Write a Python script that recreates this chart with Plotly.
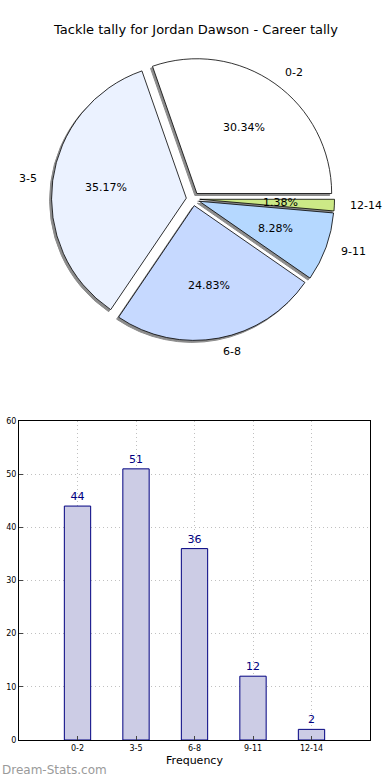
import math
import plotly.graph_objects as go

categories = ["0-2", "3-5", "6-8", "9-11", "12-14"]
counts = [44, 51, 36, 12, 2]
pie_colors = ["#ffffff", "#ebf2ff", "#c6d9ff", "#b5d8ff", "#cce986"]
y_ticks = [0, 10, 20, 30, 40, 50, 60]

W, H = 390, 780
PULL = 0.05
pull = [PULL] * len(counts)
total = sum(counts)
# plotly places the first counterclockwise slice ending at the rotation point;
# shift so the first slice starts at 3 o'clock as in matplotlib
rot = 90 - 360 * counts[0] / total

def dom_x(a, b):
    return [a / W, b / W]

def dom_y(top, bottom):
    return [1 - bottom / H, 1 - top / H]

pie_dx = dom_x(51.5, 334.5)
pie_dy = dom_y(57.5, 340.5)

fig = go.Figure()

common = dict(labels=categories, values=counts, sort=False, direction="counterclockwise",
              rotation=rot, pull=pull, showlegend=False, textinfo="none")

# shadow pie (offset left/down)
fig.add_trace(go.Pie(
    **common, hoverinfo="skip",
    marker=dict(colors=["#8c8c8c"] * 5, line=dict(color="#8c8c8c", width=1)),
    domain=dict(x=[pie_dx[0] - 2 / W, pie_dx[1] - 2 / W], y=[pie_dy[0] - 2 / H, pie_dy[1] - 2 / H]),
))
# main pie
fig.add_trace(go.Pie(
    **common,
    marker=dict(colors=pie_colors, line=dict(color="black", width=0.8)),
    domain=dict(x=pie_dx, y=pie_dy),
))

# label / percentage text positions derived from the pie geometry (matplotlib style)
box_w = (pie_dx[1] - pie_dx[0]) * W
box_h = (pie_dy[1] - pie_dy[0]) * H
r_px = min(box_w, box_h) / (2 + 2 * PULL)
cx = (pie_dx[0] + pie_dx[1]) / 2
cy = (pie_dy[0] + pie_dy[1]) / 2
annotations = []
start = 0.0
for lab, v in zip(categories, counts):
    span = 360 * v / total
    mid = math.radians(start + span / 2)
    start += span
    c, s = math.cos(mid), math.sin(mid)
    pr = (PULL + 0.6) * r_px
    lr = (PULL + 1.1) * r_px
    annotations.append(dict(text=f"{100 * v / total:.2f}%", x=cx + pr * c / W, y=cy + pr * s / H,
                            xref="paper", yref="paper", xanchor="center", yanchor="middle",
                            showarrow=False, font=dict(size=11, color="black")))
    annotations.append(dict(text=lab, x=cx + lr * c / W, y=cy + lr * s / H,
                            xref="paper", yref="paper", xanchor="left" if c > 0 else "right",
                            yanchor="middle", showarrow=False, font=dict(size=11, color="black")))

# bar chart
fig.add_trace(go.Bar(
    x=categories, y=counts, width=0.45, text=counts, textposition="outside",
    textfont=dict(family="DejaVu Sans", size=11, color="#000080"),
    marker=dict(color="#ccccE5", line=dict(color="#000080", width=1)),
    cliponaxis=False, showlegend=False, xaxis="x", yaxis="y",
))

annotations += [
    dict(text="Tackle tally for Jordan Dawson - Career tally", x=0.5, y=1 - 30 / H,
         xref="paper", yref="paper", xanchor="center", yanchor="middle", showarrow=False,
         font=dict(size=13, color="black")),
    dict(text="Dream-Stats.com", x=0, y=1 - 770 / H, xref="paper", yref="paper",
         xanchor="left", yanchor="middle", showarrow=False,
         font=dict(size=12, color="#9a9a9a")),
]

grid = dict(showgrid=True, gridcolor="#c0c0c0", griddash="1px,3px", gridwidth=1.2)

fig.update_layout(
    width=W, height=H, margin=dict(l=0, r=0, t=0, b=0, autoexpand=False),
    paper_bgcolor="white", plot_bgcolor="white",
    font=dict(family="DejaVu Sans", color="black"),
    xaxis=dict(domain=dom_x(19, 370), anchor="y", range=[-1, 5], automargin=False,
               tickfont=dict(size=8), **grid,
               showline=True, linecolor="black", mirror=True, ticks="inside", ticklen=4,
               title=dict(text="Frequency", font=dict(size=11), standoff=4)),
    yaxis=dict(domain=dom_y(421, 740), anchor="x", range=[0, 60], tickvals=y_ticks,
               automargin=False, tickfont=dict(size=8), **grid,
               showline=True, linecolor="black", mirror=True, ticks="inside", ticklen=4,
               zeroline=False),
    annotations=annotations,
)

fig.write_html("out.html", config={"displayModeBar": False},
               post_script="document.body.style.margin='0px';")
